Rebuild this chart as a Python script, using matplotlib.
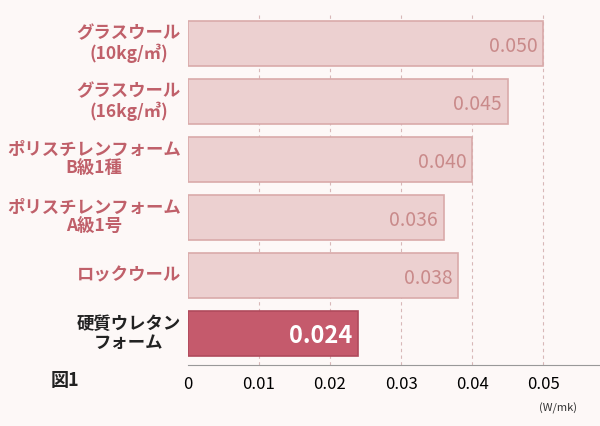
import matplotlib
matplotlib.use("Agg")
import matplotlib.pyplot as plt

plt.rcParams["font.family"] = ["Noto Sans CJK JP", "DejaVu Sans"]

labels = ["グラスウール\n(10kg/㎥)", "グラスウール\n(16kg/㎥)", "ポリスチレンフォーム\nB級1種",
          "ポリスチレンフォーム\nA級1号", "ロックウール", "硬質ウレタン\nフォーム"]
values = [0.050, 0.045, 0.040, 0.036, 0.038, 0.024]
ticks = [0, 0.01, 0.02, 0.03, 0.04, 0.05]
tick_labels = ["0", "0.01", "0.02", "0.03", "0.04", "0.05"]

fig = plt.figure(figsize=(6, 4.26), dpi=100)
fig.patch.set_facecolor("#fdf8f7")
ax = fig.add_axes([0.313, 0.143, 0.687, 0.83])
ax.set_facecolor("#fdf8f7")

y = list(range(len(values)))[::-1]
n = len(values)
for i, (lab, v) in enumerate(zip(labels, values)):
    last = i == n - 1
    fc = "#c55a6c" if last else "#ecd0d0"
    ec = "#b04a5c" if last else "#d9aaaa"
    ax.barh(y[i], v, height=0.77, color=fc, edgecolor=ec, linewidth=1.2, zorder=3)
    ax.text(v - 0.0008, y[i] - 0.05, f"{v:.3f}", ha="right", va="center",
            color="white" if last else "#c98a8a",
            fontsize=17 if last else 14, fontweight="bold" if last else "normal", zorder=4)
    ax.text(-0.001, y[i], lab, ha="right", va="center", multialignment="center",
            color="#222222" if last else "#c0606a", fontsize=12.5, fontweight="bold",
            linespacing=1.1)

ax.set_xlim(0, 0.058)
ax.set_ylim(-0.55, n - 0.45)
for t in ticks[1:]:
    ax.axvline(t, color="#d8b8b8", linestyle=(0, (3, 3)), linewidth=0.8, zorder=1)
ax.set_xticks(ticks)
ax.set_xticklabels(tick_labels, fontsize=12)
ax.set_yticks([])
ax.tick_params(axis="x", length=0, pad=8)
for s in ["top", "right", "left"]:
    ax.spines[s].set_visible(False)
ax.spines["bottom"].set_color("#999999")

fig.text(0.085, 0.095, "図1", fontsize=13, fontweight="bold", color="#222222")
fig.text(0.93, 0.035, "(W/mk)", fontsize=8, ha="center", color="#333333")

fig.savefig("out.png", dpi=100, facecolor=fig.get_facecolor())
